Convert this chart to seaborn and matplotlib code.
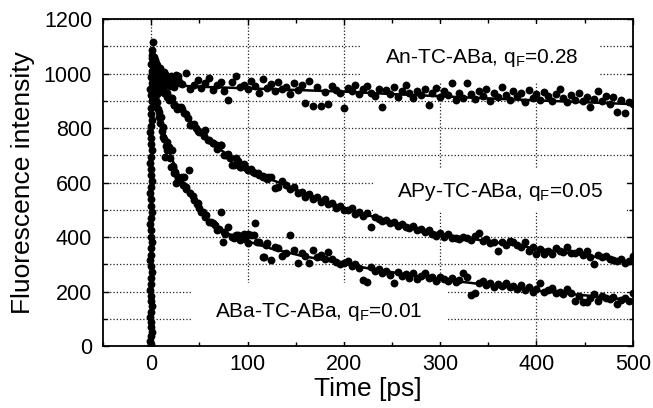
import matplotlib
matplotlib.use("Agg")
import matplotlib.pyplot as plt
import pandas as pd
import seaborn as sns
from matplotlib.patches import Rectangle
from matplotlib.ticker import MultipleLocator

# --- dados (tempo em ps, intensidade em contagens) ---

# grade de tempo comum às três séries (t = 4 ... 500 ps)
time_ps = [
    4, 8, 12, 16, 20, 24, 28, 32, 36, 40,
    44, 48, 52, 56, 60, 64, 68, 72, 76, 80,
    84, 88, 92, 96, 100, 104, 108, 112, 116, 120,
    124, 128, 132, 136, 140, 144, 148, 152, 156, 160,
    164, 168, 172, 176, 180, 184, 188, 192, 196, 200,
    204, 208, 212, 216, 220, 224, 228, 232, 236, 240,
    244, 248, 252, 256, 260, 264, 268, 272, 276, 280,
    284, 288, 292, 296, 300, 304, 308, 312, 316, 320,
    324, 328, 332, 336, 340, 344, 348, 352, 356, 360,
    364, 368, 372, 376, 380, 384, 388, 392, 396, 400,
    404, 408, 412, 416, 420, 424, 428, 432, 436, 440,
    444, 448, 452, 456, 460, 464, 468, 472, 476, 480,
    484, 488, 492, 496, 500,
]

an_intensity = [
    1010, 985, 1000, 968, 975, 950, 990, 962, 1002, 945,
    960, 975, 948, 965, 985, 940, 958, 970, 935, 903,
    968, 991, 950, 960, 942, 972, 955, 930, 980, 948,
    962, 938, 970, 945, 952, 925, 966, 940, 958, 892,
    973, 881, 950, 881, 932, 888, 955, 940, 928, 873,
    948, 935, 960, 925, 942, 954, 930, 918, 945, 877,
    940, 925, 952, 915, 938, 960, 928, 910, 935, 922,
    945, 884, 930, 946, 915, 935, 920, 965, 905, 930,
    912, 965, 925, 908, 938, 918, 942, 900, 928, 915,
    950, 922, 905, 935, 918, 930, 895, 940, 912, 925,
    905, 932, 918, 900, 925, 943, 910, 895, 920, 905,
    930, 898, 915, 877, 908, 935, 900, 918, 890, 914,
    859, 905, 855, 895, 888,
]

apy_intensity = [
    1000, 975, 950, 930, 910, 884, 877, 870, 852, 811,
    815, 790, 785, 793, 756, 745, 738, 737, 700, 705,
    664, 690, 657, 670, 646, 650, 635, 628, 620, 612,
    622, 580, 583, 606, 590, 575, 585, 560, 565, 548,
    558, 540, 548, 530, 538, 520, 525, 505, 514, 500,
    498, 505, 485, 492, 478, 488, 437, 472, 465, 458,
    462, 450, 455, 440, 448, 438, 432, 440, 425, 428,
    418, 425, 412, 405, 415, 400, 410, 396, 398, 392,
    402, 395, 388, 405, 415, 385, 392, 378, 382, 349,
    380, 372, 385, 382, 370, 365, 382, 350, 362, 338,
    355, 338, 348, 338, 360, 350, 345, 363, 342, 340,
    348, 335, 349, 328, 301, 335, 325, 330, 320, 315,
    312, 320, 305, 312, 330,
]

aba_intensity = [
    960, 840, 767, 719, 657, 635, 617, 620, 583, 561,
    536, 525, 492, 473, 455, 451, 426, 492, 420, 438,
    401, 407, 389, 413, 377, 407, 450, 383, 327, 377,
    316, 364, 358, 330, 340, 407, 352, 305, 340, 330,
    305, 352, 328, 335, 320, 345, 318, 310, 300, 304,
    312, 295, 300, 288, 242, 235, 290, 275, 282, 268,
    275, 262, 231, 270, 258, 265, 250, 268, 245, 258,
    268, 248, 253, 240, 255, 245, 238, 250, 235, 242,
    268, 253, 187, 194, 230, 238, 225, 232, 218, 228,
    220, 232, 215, 222, 210, 225, 205, 215, 200, 210,
    231, 198, 205, 212, 195, 200, 190, 208, 196, 165,
    185, 161, 161, 178, 190, 165, 182, 175, 172, 180,
    154, 170, 178, 165, 194,
]

# subida do pulso em t ~ 0 (coluna vertical de pontos)
rise_t = [
    0, 0, -1, 0, 1, 0, 0, -1, 0, 1,
    0, 0, -1, 0, 0, 1, 0, -1, 0, 0,
    1, 0, 0, -1, 0, 1, 0, 0, -1, 0,
    1, 0, 0, -1, 0, 1, 0, 0, -1, 0,
    1, 0, 0, 1, 0, -1, 1, 0, 1, 0,
    1, 1, 2,
]
rise_y = [
    0, 8, 20, 35, 52, 70, 88, 105, 125, 145,
    165, 185, 205, 228, 250, 270, 292, 315, 335, 358,
    380, 402, 425, 447, 470, 492, 515, 538, 560, 582,
    605, 628, 650, 672, 695, 718, 740, 762, 785, 808,
    830, 852, 875, 898, 920, 942, 965, 988, 1010, 1035,
    1058, 1085, 1117,
]

# aglomerado logo após o pico (t < 30 ps)
spike_t = [1, 1, 2, 2, 2, 3, 3, 4, 5, 5, 6, 6, 7, 7, 9, 9, 11, 11, 13, 15, 17, 19, 22, 26, 30,
           1, 2, 3, 3, 4, 4, 5, 6, 7, 8, 8, 10, 10, 12, 12, 14, 16, 18, 20, 24, 28]
spike_y = [1068, 1000, 1040, 960, 1010, 1025, 935, 1050, 1000, 945, 1030, 975, 1005, 955,
           1020, 965, 990, 940, 1005, 968, 985, 955, 975, 995, 965,
           900, 880, 985, 1060, 910, 975, 1040, 925, 1020, 990, 945, 1010, 960, 985, 945,
           1000, 960, 975, 990, 960, 980]

# pontos extra na parte íngreme das curvas
aba_early_t = [5, 6, 7, 8, 9, 10, 11, 12, 13, 14, 15, 16, 18, 19, 21, 22, 23, 25, 26, 28, 29, 31,
               33, 34, 36, 39, 43, 47, 50, 54, 57, 62, 66, 70, 74, 77, 86, 90, 97, 100, 107, 110,
               117, 119]
aba_early_y = [930, 895, 870, 860, 820, 840, 790, 804, 760, 694, 735, 749, 730, 690, 719, 660,
               657, 640, 598, 620, 605, 617, 590, 620, 575, 646, 550, 520, 505, 492, 480, 455,
               445, 430, 383, 410, 395, 407, 392, 413, 407, 380, 328, 370]

apy_early_t = [10, 13, 16, 18, 21, 24, 27, 31, 34, 38, 41, 46, 50, 55, 59, 64, 68, 72, 78, 82,
               86, 90, 93, 98, 100, 106, 111, 116, 121]
apy_early_y = [945, 930, 915, 905, 910, 884, 870, 877, 855, 838, 811, 800, 785, 770, 756, 745,
               725, 737, 700, 690, 664, 680, 657, 655, 646, 640, 635, 625, 620]

# curvas ajustadas
an_fit_t = [6, 20, 50, 100, 150, 200, 250, 300, 350, 400, 450, 500]
an_fit_y = [968, 958, 952, 946, 940, 934, 925, 917, 909, 902, 895, 888]

apy_fit_t = [12, 16, 20, 24, 30, 36, 45, 55, 65, 76, 90, 104, 124, 155, 180, 207, 230, 259,
             280, 300, 350, 400, 450, 500]
apy_fit_y = [945, 928, 914, 900, 875, 848, 810, 772, 740, 710, 675, 645, 612, 568, 533, 500,
             475, 448, 428, 412, 384, 358, 333, 308]

aba_fit_t = [6, 10, 15, 20, 24, 30, 35, 41, 50, 59, 70, 80, 92, 104, 124, 155, 180, 207, 230,
             259, 300, 350, 400, 450, 500]
aba_fit_y = [930, 840, 760, 700, 665, 615, 580, 548, 500, 465, 435, 412, 395, 380, 358, 332,
             315, 297, 282, 266, 245, 224, 203, 186, 168]

rotulos = ["An-TC-ABa, q$_F$=0.28", "APy-TC-ABa, q$_F$=0.05", "ABa-TC-ABa, q$_F$=0.01"]


def montar_pontos():
    partes = [
        pd.DataFrame({"t": time_ps, "I": an_intensity, "serie": "An"}),
        pd.DataFrame({"t": time_ps, "I": apy_intensity, "serie": "APy"}),
        pd.DataFrame({"t": time_ps, "I": aba_intensity, "serie": "ABa"}),
        pd.DataFrame({"t": rise_t, "I": rise_y, "serie": "rise"}),
        pd.DataFrame({"t": spike_t, "I": spike_y, "serie": "spike"}),
        pd.DataFrame({"t": aba_early_t, "I": aba_early_y, "serie": "ABa"}),
        pd.DataFrame({"t": apy_early_t, "I": apy_early_y, "serie": "APy"}),
    ]
    return pd.concat(partes, ignore_index=True)


def main():
    sns.set_style("ticks")
    plt.rcParams["font.family"] = ["Liberation Sans", "DejaVu Sans"]
    plt.rcParams["mathtext.default"] = "regular"
    for chave in ["text.color", "axes.labelcolor", "xtick.color", "ytick.color",
                  "xtick.labelcolor", "ytick.labelcolor"]:
        plt.rcParams[chave] = "black"

    fig, ax = plt.subplots(figsize=(6.53, 4.08), dpi=100)
    fig.subplots_adjust(left=0.158, right=0.969, top=0.953, bottom=0.152)

    df = montar_pontos()
    sns.scatterplot(data=df, x="t", y="I", color="black", s=32, linewidth=0,
                    legend=False, ax=ax, zorder=3)

    for ft, fy in [(an_fit_t, an_fit_y), (apy_fit_t, apy_fit_y), (aba_fit_t, aba_fit_y)]:
        sns.lineplot(x=ft, y=fy, color="black", lw=1.8, estimator=None, ax=ax, zorder=4)

    ax.set_xlim(-50, 500)
    ax.set_ylim(0, 1200)
    ax.xaxis.set_major_locator(MultipleLocator(100))
    ax.xaxis.set_minor_locator(MultipleLocator(50))
    ax.yaxis.set_major_locator(MultipleLocator(200))
    ax.yaxis.set_minor_locator(MultipleLocator(100))
    ax.tick_params(which="both", direction="in", top=True, right=True,
                   width=1, color="black", labelsize=15.5, labelcolor="black")
    ax.tick_params(which="major", length=4.5)
    ax.tick_params(which="minor", length=3)
    ax.tick_params(axis="x", pad=6)
    ax.tick_params(axis="y", pad=8)

    ax.set_axisbelow(True)
    ax.grid(which="major", axis="x", linestyle=":", color="#222222", lw=0.9)
    ax.grid(which="both", axis="y", linestyle=":", color="#222222", lw=0.9)
    for sp in ax.spines.values():
        sp.set_visible(True)
        sp.set_linewidth(1.3)
        sp.set_color("black")

    # caixas brancas atrás dos rótulos (interrompem a grade)
    for x0, y0, w, h in [(217, 970, 249, 213), (230, 492, 263, 158), (41, 16, 267, 214)]:
        ax.add_patch(Rectangle((x0, y0), w, h, facecolor="white", edgecolor="none", zorder=1))

    ax.text(343, 1057, rotulos[0], ha="center", va="center", fontsize=15, color="black", zorder=5)
    ax.text(362, 565, rotulos[1], ha="center", va="center", fontsize=15, color="black", zorder=5)
    ax.text(174, 125, rotulos[2], ha="center", va="center", fontsize=15, color="black", zorder=5)

    ax.set_xlabel("Time [ps]", fontsize=19, labelpad=1, color="black")
    ax.set_ylabel("Fluorescence intensity", fontsize=19, labelpad=6, color="black")

    fig.savefig("out.png", dpi=100)
    plt.close(fig)


if __name__ == "__main__":
    main()
